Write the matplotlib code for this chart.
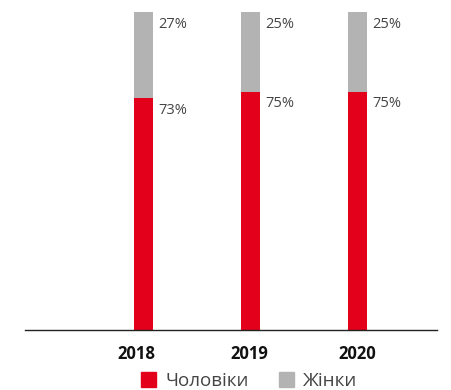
import matplotlib
matplotlib.use("Agg")
import matplotlib.pyplot as plt
import matplotlib.transforms as mtransforms
from matplotlib.patches import Patch

years = ["2018", "2019", "2020"]
men = [73, 75, 75]
women = [27, 25, 25]
series_names = ["Чоловіки", "Жінки"]

RED = "#E2001A"
GRAY = "#B3B3B3"
TXT = "#444444"

plt.rcParams['font.family'] = ['Open Sans', 'DejaVu Sans']

fig = plt.figure(figsize=(4.52, 3.90), dpi=100)
W, H = 452, 390
x0, x1 = 25, 437
ybot, ytop = 330, 12
ax = fig.add_axes([x0 / W, 1 - ybot / H, (x1 - x0) / W, (ybot - ytop) / H])

xs = list(range(len(years)))
bw = 0.178
ax.bar(xs, men, width=bw, color=RED)
ax.bar(xs, women, width=bw, bottom=men, color=GRAY)

px0, pstep = 143.5, 107
ax.set_xlim((x0 - px0) / pstep, (x1 - px0) / pstep)
ax.set_ylim(0, 100)

for i, (m, w) in enumerate(zip(men, women)):
    ax.annotate(f"{w}%", (i + bw / 2, m + w), xytext=(3.5, -3.5), textcoords="offset points",
                ha="left", va="top", fontsize=10.5, color=TXT)
    ax.annotate(f"{m}%", (i + bw / 2, m), xytext=(3.5, -3.5), textcoords="offset points",
                ha="left", va="top", fontsize=10.5, color=TXT)

ax.set_xticks(xs)
ax.set_xticklabels(years, fontsize=12, fontweight="bold", color="#111111")
ax.tick_params(axis="x", length=0, pad=11)
# small horizontal nudges of the year labels as in the reference
nudges = [-7, -1, 0]
for lbl, dx in zip(ax.get_xticklabels(), nudges):
    lbl.set_transform(lbl.get_transform() + mtransforms.ScaledTranslation(dx / 100, 0, fig.dpi_scale_trans))
ax.set_yticks([])
for s in ["top", "right", "left"]:
    ax.spines[s].set_visible(False)
ax.spines["bottom"].set_color("#222222")
ax.spines["bottom"].set_linewidth(1.0)

handles = [Patch(color=RED), Patch(color=GRAY)]
fig.legend(handles, series_names, loc="center", bbox_to_anchor=(249 / W, 1 - 381 / H),
           ncol=2, frameon=False, fontsize=13.5, handlelength=0.8, handleheight=0.8,
           handletextpad=0.5, columnspacing=1.6, labelcolor=TXT)

fig.savefig("out.png", dpi=100)
